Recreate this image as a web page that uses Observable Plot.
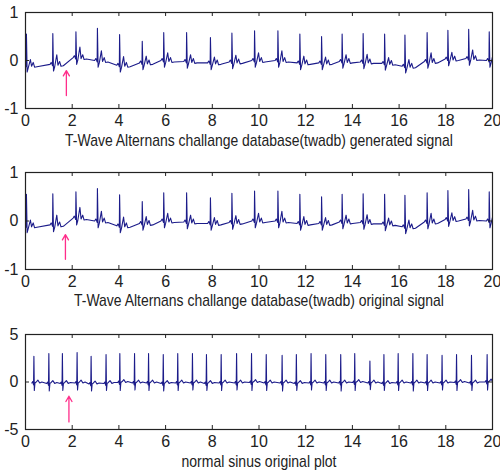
<!DOCTYPE html>
<html>
<head>
<meta charset="utf-8">
<script src="https://cdn.jsdelivr.net/npm/d3@7"></script>
<script src="https://cdn.jsdelivr.net/npm/@observablehq/plot@0.6"></script>
<style>
  body { margin: 0; background: #fff; }
  #chart { width: 500px; background: #fff; }
  #chart svg { display: block; }
</style>
</head>
<body>
<div id="chart"></div>
<script>
// ---------- data ----------
const xTicks = [0, 2, 4, 6, 8, 10, 12, 14, 16, 18, 20];
const yTicksTop = [-1, 0, 1];
const yTicksBottom = [-5, 0, 5];

const captionGenerated = "T-Wave Alternans challange database(twadb) generated signal";
const captionOriginal = "T-Wave Alternans challange database(twadb) original signal";
const captionSinus = "normal sinus original plot";

// twadb beats (R-peak time in s, R amplitude, T amplitude, local baseline)
const twaBeatTimes = [0.04, 1.17, 2.16, 3.08, 4.03, 5.0, 5.92, 6.9, 7.92, 8.84, 9.81, 10.81, 11.75, 12.68, 13.56, 14.46, 15.38, 16.25, 17.2, 18.09, 18.98, 19.86];
const twaRAmps     = [0.55, 0.56, 0.6, 0.67, 0.54, 0.4, 0.58, 0.58, 0.48, 0.57, 0.62, 0.62, 0.55, 0.5, 0.55, 0.56, 0.55, 0.53, 0.58, 0.63, 0.65, 0.6];
const twaTAmps     = [0.12, 0.2, 0.22, 0.2, 0.18, 0.14, 0.16, 0.14, 0.12, 0.14, 0.16, 0.2, 0.14, 0.12, 0.14, 0.16, 0.12, 0.14, 0.18, 0.14, 0.18, 0.14];
const twaBaseline  = [-0.1, -0.08, 0.06, 0.0, -0.1, -0.05, 0.0, -0.02, -0.05, -0.03, 0.0, 0.0, -0.05, -0.05, -0.02, -0.03, -0.06, -0.12, -0.02, 0.03, 0.04, 0.0];
// beat shape (offset from R in s, value above baseline); index 4 = R, index 7 = T
const twaShapeOffsets = [-0.12, -0.07, -0.03, -0.012, 0, 0.03, 0.08, 0.17, 0.22, 0.29, 0.35, 0.45];
const twaShapeValues  = [0, 0.04, 0, -0.03, 0, -0.14, -0.05, 0.13, -0.02, 0.06, -0.04, -0.03];

// normal sinus beats
const nsrBeatTimes = [0.36, 1.0, 1.58, 2.21, 2.81, 3.45, 4.04, 4.67, 5.27, 5.9, 6.52, 7.15, 7.75, 8.38, 9.04, 9.68, 10.31, 10.99, 11.6, 12.23, 12.86, 13.5, 14.1, 14.75, 15.35, 15.96, 16.59, 17.2, 17.84, 18.46, 19.1, 19.77];
const nsrRAmps     = [2.7, 3.0, 3.0, 3.1, 2.7, 2.9, 3.0, 3.0, 3.0, 2.9, 3.0, 3.0, 2.9, 2.9, 3.0, 3.0, 2.9, 2.8, 2.9, 3.0, 2.9, 2.9, 3.0, 2.2, 2.9, 3.0, 3.0, 2.9, 2.8, 2.9, 2.8, 2.9];
const nsrSAmps     = [-0.9, -0.95, -0.9, -0.85, -0.95, -0.9, -0.9, -0.85, -0.9, -0.95, -0.9, -0.85, -0.9, -0.9, -0.85, -0.9, -0.9, -0.95, -0.9, -0.85, -0.9, -0.95, -0.9, -0.8, -0.9, -0.9, -0.95, -0.9, -0.85, -0.9, -0.9, -0.85];
const nsrBaseline  = [-0.1, -0.15, -0.15, -0.1, -0.2, -0.15, -0.05, -0.1, -0.1, -0.15, -0.1, -0.1, -0.15, -0.1, -0.1, -0.05, -0.1, -0.1, -0.15, -0.1, -0.1, -0.1, -0.05, -0.1, -0.15, -0.1, -0.1, -0.1, -0.1, -0.05, -0.1, 0.0];
// index 3 = R, index 4 = S
const nsrShapeOffsets = [-0.09, -0.05, -0.015, 0, 0.018, 0.045, 0.1, 0.17, 0.25, 0.34];
const nsrShapeValues  = [0, 0.15, -0.2, 0, 0, 0, 0.1, 0.3, 0, 0.1];

// pink arrow annotations (t, tail value, tip value)
const arrowT = [1.75, 1.71, 1.86];
const arrowTail = [-0.73, -0.79, -4.2];
const arrowTip = [-0.21, -0.28, -1.5];

// ---------- build the traces ----------
function twaTrace() {
  const pts = [];
  twaBeatTimes.forEach((t, i) => {
    twaShapeOffsets.forEach((o, j) => {
      let v = twaBaseline[i] + twaShapeValues[j];
      if (j === 4) v = twaRAmps[i];
      if (j === 7) v = twaBaseline[i] + twaTAmps[i];
      pts.push({t: t + o, v});
    });
  });
  return pts;
}
function nsrTrace() {
  const pts = [];
  nsrBeatTimes.forEach((t, i) => {
    nsrShapeOffsets.forEach((o, j) => {
      let v = nsrBaseline[i] + nsrShapeValues[j];
      if (j === 3) v = nsrRAmps[i];
      if (j === 4) v = nsrSAmps[i];
      pts.push({t: t + o, v});
    });
  });
  return pts;
}

const FONT = "'Liberation Sans', Arial, sans-serif";
const LINE = "#1c1c8a";
const PINK = "#ff2d8a";
const INK = "#222";

function panel({data, yDomain, yTicks, caption, height, marginTop, marginBottom, arrowIndex, captionDy}) {
  const width = 500, marginLeft = 25, marginRight = 8;
  const plotH = height - marginTop - marginBottom;
  const plotW = width - marginLeft - marginRight;
  const tk = 4;
  return Plot.plot({
    width, height, marginLeft, marginRight, marginTop, marginBottom,
    style: {fontFamily: FONT, fontSize: "16px", background: "#fff", color: INK, overflow: "visible"},
    x: {domain: [0, 20], ticks: xTicks},
    y: {domain: yDomain, ticks: yTicks},
    marks: [
      Plot.line(data, {x: "t", y: "v", stroke: LINE, strokeWidth: 1.1, clip: true}),
      Plot.arrow([arrowIndex], {x1: i => arrowT[i], x2: i => arrowT[i], y1: i => arrowTail[i], y2: i => arrowTip[i], stroke: PINK, strokeWidth: 1.3, headLength: 7, bend: 0}),
      Plot.tickX(xTicks, {x: d => d, stroke: INK, insetTop: plotH - tk}),
      Plot.tickX(xTicks, {x: d => d, stroke: INK, insetBottom: plotH - tk}),
      Plot.tickY(yTicks, {y: d => d, stroke: INK, insetRight: plotW - tk}),
      Plot.tickY(yTicks, {y: d => d, stroke: INK, insetLeft: plotW - tk}),
      Plot.frame({stroke: INK, strokeWidth: 1.2}),
      Plot.axisX({ticks: xTicks, tickSize: 0, tickPadding: 6, fontSize: 16, label: null, tickFormat: d => String(d)}),
      Plot.axisY({ticks: yTicks, tickSize: 0, tickPadding: 7, fontSize: 16, label: null, tickFormat: d => String(d)}),
      Plot.text([caption], {text: d => d, frameAnchor: "bottom", dy: captionDy, fontSize: 16, fill: INK, className: "caption"})
    ]
  });
}

const chart = document.getElementById("chart");
const specs = [
  {data: twaTrace(), yDomain: [-1, 1], yTicks: yTicksTop, caption: captionGenerated, captionWidth: 388, height: 160, marginTop: 12, marginBottom: 52, arrowIndex: 0, captionDy: 37},
  {data: twaTrace(), yDomain: [-1, 1], yTicks: yTicksTop, caption: captionOriginal, captionWidth: 370, height: 150, marginTop: 12, marginBottom: 41, arrowIndex: 1, captionDy: 36},
  {data: nsrTrace(), yDomain: [-5, 5], yTicks: yTicksBottom, caption: captionSinus, captionWidth: 155, height: 166, marginTop: 24, marginBottom: 47, arrowIndex: 2, captionDy: 37}
];
specs.forEach(s => {
  const svg = panel(s);
  chart.append(svg);
  // narrow the caption horizontally (the reference uses a condensed face)
  svg.querySelectorAll(".caption text").forEach(t => {
    const w = t.getComputedTextLength();
    if (w > 0) {
      const k = s.captionWidth / w;
      const tr = t.getAttribute("transform") || "";
      t.setAttribute("transform", tr + ` scale(${k.toFixed(3)},1)`);
    }
  });
});
</script>
</body>
</html>
